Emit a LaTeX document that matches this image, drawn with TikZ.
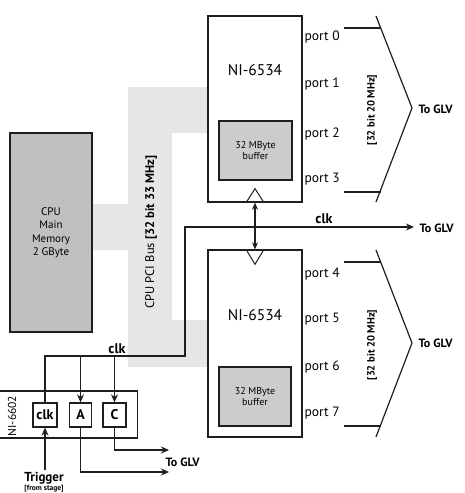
\documentclass[tikz,border=0pt]{standalone}
\usepackage{fontspec}
\setmainfont{PT Sans}
\usetikzlibrary{arrows.meta}
\definecolor{busgray}{RGB}{230,230,230}
\definecolor{cpugray}{RGB}{192,192,192}
\definecolor{bufgray}{RGB}{204,204,204}
\definecolor{ink}{RGB}{30,30,30}
\begin{document}
\begin{tikzpicture}[x=1pt,y=-1pt,
  line width=1.2pt, draw=ink,
  card/.style={draw=ink, line width=1.3pt, fill=white, minimum width=94pt, inner sep=0pt},
  bufbox/.style={draw=ink, line width=1.2pt, fill=bufgray, minimum width=73pt, minimum height=59pt, inner sep=0pt, align=center, font=\fontsize{10}{11.5}\selectfont},
  portlbl/.style={anchor=west, inner sep=0pt, font=\fontsize{13.5}{15}\selectfont},
  glv/.style={anchor=west, inner sep=0pt, font=\bfseries\fontsize{12}{14}\selectfont},
  cntbox/.style={draw=ink, line width=1.3pt, fill=white, minimum height=24pt, inner sep=0pt, font=\bfseries\fontsize{14}{16}\selectfont},
  arr/.style={-{Stealth[length=8pt,width=7pt]}},
  conn/.style={draw=ink, line width=1.2pt}
]
\useasboundingbox (0,0) rectangle (465,493);

% PCI bus shape
\fill[busgray] (128,87) -- (208,87) -- (208,133) -- (172,133) -- (172,320) -- (208,320)
  -- (208,367) -- (128,367) -- (128,250) -- (92,250) -- (92,204) -- (128,204) -- cycle;
\node[rotate=90, inner sep=0pt, font=\fontsize{12.5}{14}\selectfont] (buslbl) at (151,232)
  {CPU PCI Bus \textbf{[32 bit 33 MHz]}};

% CPU memory
\node[draw=ink, line width=1.3pt, fill=cpugray, minimum width=82pt, minimum height=199pt,
  inner sep=0pt, align=center, font=\fontsize{11}{13.5}\selectfont] (cpu) at (51,232.5)
  {CPU\\Main\\Memory\\2 GByte};

% Top NI-6534
\node[card, minimum height=186pt] (t1) at (255,109) {};
\node[inner sep=0pt, font=\fontsize{15.5}{18}\selectfont] (t1lbl) at (255,70) {NI-6534};
\node[bufbox] (b1) at (255.5,150.5) {32 MByte\\buffer};
\draw[line width=1pt] ([xshift=-9pt]t1.south) -- ([yshift=14pt]t1.south) -- ([xshift=9pt]t1.south);

% Bottom NI-6534
\node[card, minimum height=187pt] (t2) at (255,343.5) {};
\node[inner sep=0pt, font=\fontsize{15.5}{18}\selectfont] (t2lbl) at (255,315) {NI-6534};
\node[bufbox, minimum width=72pt] (b2) at (255,396.5) {32 MByte\\buffer};
\draw[line width=1pt] ([xshift=-9pt]t2.north) -- ([yshift=-15pt]t2.north) -- ([xshift=9pt]t2.north);

% double arrow between cards
\draw[conn, {Stealth[length=7pt,width=6pt]}-{Stealth[length=7pt,width=6pt]}] (t1.south) -- (t2.north);

% ports
\node[portlbl] (p0) at (304,37) {port 0};
\node[portlbl] (p1) at (304,84) {port 1};
\node[portlbl] (p2) at (304,134) {port 2};
\node[portlbl] (p3) at (304,179) {port 3};
\node[portlbl] (p4) at (304,274) {port 4};
\node[portlbl] (p5) at (304,319) {port 5};
\node[portlbl] (p6) at (304,367) {port 6};
\node[portlbl] (p7) at (304,413) {port 7};

% top chevron
\coordinate (c1t) at (376,16);
\coordinate (c1a) at (412,108);
\coordinate (c1b) at (376,202);
\draw[conn] (c1t) -- (c1a) -- (c1b);
\coordinate (h1s) at (344,28);
\coordinate (h1e) at (381,28);
\coordinate (h2s) at (344,192);
\coordinate (h2e) at (381,192);
\draw[conn] (h1s) -- (h1e);
\draw[conn] (h2s) -- (h2e);
\node[rotate=90, inner sep=0pt, font=\bfseries\fontsize{10.5}{12}\selectfont] (r1) at (372,110) {[32 bit 20 MHz]};
\node[glv] (g1) at (418,109) {To GLV};

% bottom chevron
\coordinate (c2t) at (376,250);
\coordinate (c2a) at (412,343);
\coordinate (c2b) at (376,437);
\draw[conn] (c2t) -- (c2a) -- (c2b);
\coordinate (h3s) at (344,262);
\coordinate (h3e) at (381,262);
\coordinate (h4s) at (344,426);
\coordinate (h4e) at (381,426);
\draw[conn] (h3s) -- (h3e);
\draw[conn] (h4s) -- (h4e);
\node[rotate=90, inner sep=0pt, font=\bfseries\fontsize{10.5}{12}\selectfont] (r2) at (372,345) {[32 bit 20 MHz]};
\node[glv] (g2) at (418,343) {To GLV};

% NI-6602
\node[draw=ink, line width=1.3pt, minimum width=140pt, minimum height=47pt, inner sep=0pt] (ni) at (67.5,414.5) {};
\node[rotate=90, inner sep=0pt, font=\fontsize{11.5}{13}\selectfont] (nilbl) at (12,416) {NI-6602};
\node[cntbox, minimum width=24pt] (ck) at (45,415) {clk};
\node[cntbox, minimum width=22pt] (ca) at (80.5,415) {A};
\node[cntbox, minimum width=23pt] (cc) at (114.5,415) {C};

% clock routing
\coordinate (j1) at (185,356);
\coordinate (clkend) at (414,227);
\draw[conn, arr] (ck.north) |- (j1) |- (clkend);
\draw[conn, arr] (ca.north |- j1) -- (ca.north);
\draw[conn, arr] (cc.north |- j1) -- (cc.north);
\node[inner sep=0pt, font=\bfseries\fontsize{14}{16}\selectfont, anchor=base] (clk1) at (117,353) {clk};
\node[inner sep=0pt, font=\bfseries\fontsize{14}{16}\selectfont, anchor=base] (clk2) at (324,223) {clk};
\node[glv] (g3) at (419,228) {To GLV};

% trigger
\coordinate (trig) at (45,470);
\draw[conn, arr] (trig) -- (ck.south);
\node[inner sep=0pt, font=\bfseries\fontsize{13}{15}\selectfont] (trg) at (44,478) {Trigger};
\node[inner sep=0pt, font=\bfseries\fontsize{7.5}{8.5}\selectfont] (frm) at (44,488.5) {[from stage]};

% counter outputs
\coordinate (oa) at (169,472);
\coordinate (oc) at (169,450);
\draw[conn, arr] (ca.south) |- (oa);
\draw[conn, arr] (cc.south) |- (oc);
\node[glv] (g4) at (165,462) {To GLV};
\end{tikzpicture}
\end{document}
